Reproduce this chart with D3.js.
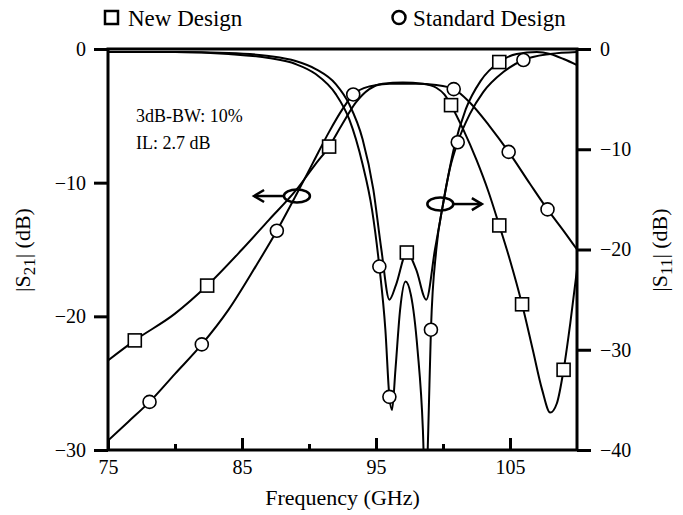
<!DOCTYPE html>
<html>
<head>
<meta charset="utf-8">
<script src="https://cdn.jsdelivr.net/npm/d3@7"></script>
<style>
  body { margin: 0; background: #fff; }
  svg { display: block; font-family: "Liberation Serif", "Times New Roman", serif; }
</style>
</head>
<body>
<svg id="chart" width="683" height="515"></svg>
<script>
// data: [GHz, dB]
const newS21 = [[75,-23.3],[77,-21.8],[80,-19.8],[82.4,-17.7],[85,-15],[87,-12.8],[89,-10.6],[90.5,-8.6],[91.5,-7.3],[92.5,-5.6],[93.5,-4],[94.5,-3],[95.5,-2.6],[97,-2.5],[98.5,-2.6],[99.5,-2.9],[100.1,-3.4],[100.6,-4.2],[101.5,-6],[102.5,-8.3],[103.4,-10.7],[104.2,-13.2],[105,-15.8],[105.9,-19.1],[106.7,-22.5],[107.4,-25.5],[108,-27.2],[108.5,-26.5],[109,-24],[109.5,-20.5],[110,-16.5]];
const newS21Marks = [77, 82.4, 91.5, 100.6, 104.2, 105.9, 109];

const stdS21 = [[75,-29.3],[76.5,-27.9],[78.1,-26.4],[80,-24.3],[82,-22.1],[84,-19.5],[86,-16.3],[87.6,-13.6],[89,-11],[90.3,-8.5],[91.5,-6.2],[92.5,-4.5],[93.3,-3.4],[94.5,-2.8],[96,-2.6],[98,-2.6],[99.5,-2.7],[100.8,-3.0],[102,-4.0],[103.5,-5.8],[104.9,-7.7],[106.5,-10.1],[107.8,-12],[109,-13.6],[110,-15]];
const stdS21Marks = [78.1, 82, 87.6, 93.3, 100.8, 104.9, 107.8];

// S11 uses the right axis
const newS11 = [[75,-0.3],[80,-0.3],[84,-0.4],[87,-0.7],[89,-1.2],[90.5,-2],[92,-3.5],[93,-5.5],[94,-9],[94.8,-14],[95.4,-20],[96,-25],[96.5,-23.5],[97.3,-20.3],[98,-22],[98.75,-25],[99.4,-20],[100,-15.5],[100.8,-10],[101.7,-6],[102.8,-3.2],[104.2,-1.3],[105.5,-0.5],[107,-0.3],[108,-0.5],[109,-1],[110,-1.6]];
const newS11Marks = [97.3, 104.2];

const stdS11 = [[75,-0.3],[80,-0.3],[84,-0.5],[87,-0.9],[89,-1.5],[90.5,-2.5],[92,-4.5],[93,-7],[94,-11.5],[94.7,-16],[95.25,-21.7],[95.7,-28],[96,-34.7],[96.2,-36],[96.45,-32],[96.8,-26],[97.2,-23.2],[97.6,-24.5],[98.1,-30],[98.5,-38],[98.7,-46],[98.9,-38],[99.1,-28],[99.5,-20],[100,-15.5],[100.5,-12],[101.1,-9.3],[102,-6.5],[103,-4.3],[104.5,-2.3],[106,-1.1],[108,-0.5],[110,-0.3]];
const stdS11Marks = [95.25, 96, 99.1, 101.1, 106];

const xTicks = [75, 85, 95, 105];
const xMinor = [80, 90, 100];
const leftTicks = [0, -10, -20, -30];
const rightTicks = [0, -10, -20, -30, -40];

const svg = d3.select("#chart");
const L = 108, R = 577, T = 49, B = 450;

const x = d3.scaleLinear().domain([75, 110]).range([L, R]);
const yL = d3.scaleLinear().domain([-30, 0]).range([B, T]);
const yR = d3.scaleLinear().domain([-40, 0]).range([B, T]);

svg.append("clipPath").attr("id", "plot-clip")
  .append("rect").attr("x", L).attr("y", T).attr("width", R - L).attr("height", B - T);

const plot = svg.append("g").attr("clip-path", "url(#plot-clip)");

function drawCurve(data, y) {
  const line = d3.line().x(d => x(d[0])).y(d => y(d[1])).curve(d3.curveMonotoneX);
  plot.append("path").attr("d", line(data))
    .attr("fill", "none").attr("stroke", "#000").attr("stroke-width", 2);
}
drawCurve(newS21, yL);
drawCurve(stdS21, yL);
drawCurve(newS11, yR);
drawCurve(stdS11, yR);

// annotation arrows with ellipses
const ann = svg.append("g").attr("stroke", "#000").attr("fill", "none").attr("stroke-width", 2.5);
function arrow(cx, cy, tipX) {
  ann.append("ellipse").attr("cx", x(cx)).attr("cy", yL(cy)).attr("rx", 13).attr("ry", 6.5);
  const dir = tipX < cx ? -1 : 1;
  const sx = x(cx) + dir * 13;
  const tx = x(tipX);
  ann.append("line").attr("x1", sx).attr("y1", yL(cy)).attr("x2", tx).attr("y2", yL(cy));
  ann.append("path").attr("d", `M${tx - dir * 10},${yL(cy) - 6}L${tx},${yL(cy)}L${tx - dir * 10},${yL(cy) + 6}`);
}
arrow(89.1, -11, 85.9);
arrow(99.8, -11.6, 102.9);

// markers
function marks(data, freqs, y, shape) {
  const pts = freqs.map(f => data.find(d => d[0] === f));
  const g = svg.append("g").attr("fill", "#fff").attr("stroke", "#000").attr("stroke-width", 1.6);
  pts.forEach(d => {
    if (shape === "sq") {
      g.append("rect").attr("x", x(d[0]) - 6.5).attr("y", y(d[1]) - 6.5).attr("width", 13).attr("height", 13);
    } else {
      g.append("circle").attr("cx", x(d[0])).attr("cy", y(d[1])).attr("r", 6.5);
    }
  });
}
marks(newS21, newS21Marks, yL, "sq");
marks(newS11, newS11Marks, yR, "sq");
marks(stdS21, stdS21Marks, yL, "ci");
marks(stdS11, stdS11Marks, yR, "ci");

// frame
svg.append("rect").attr("x", L).attr("y", T).attr("width", R - L).attr("height", B - T)
  .attr("fill", "none").attr("stroke", "#000").attr("stroke-width", 3);

// axes
svg.append("g").attr("transform", `translate(0,${B})`)
  .call(d3.axisBottom(x).tickValues(xTicks).tickSize(-12).tickPadding(10).tickFormat(d3.format("d")));
svg.append("g").attr("transform", `translate(0,${B})`)
  .call(d3.axisBottom(x).tickValues(xMinor).tickSize(-6).tickFormat(""));
svg.append("g").attr("transform", `translate(${L},0)`)
  .call(d3.axisLeft(yL).tickValues(leftTicks).tickSize(14).tickPadding(8));
svg.append("g").attr("transform", `translate(${R},0)`)
  .call(d3.axisRight(yR).tickValues(rightTicks).tickSize(14).tickPadding(9));

svg.selectAll(".domain").remove();
svg.selectAll(".tick line").attr("stroke", "#000").attr("stroke-width", 3);
svg.selectAll(".tick text").attr("fill", "#000")
  .style("font-family", '"Liberation Serif", serif').style("font-size", "20px");

// axis titles
svg.append("text").attr("x", (L + R) / 2).attr("y", 505).attr("text-anchor", "middle")
  .style("font-size", "22px").text("Frequency (GHz)");

function yTitle(cx, sub) {
  const t = svg.append("text").attr("transform", `translate(${cx},250) rotate(-90)`)
    .attr("text-anchor", "middle").style("font-size", "22px");
  t.append("tspan").text("|S");
  t.append("tspan").attr("dy", 5).style("font-size", "17px").text(sub);
  t.append("tspan").attr("dy", -5).text("| (dB)");
}
yTitle(30, "21");
yTitle(667, "11");

// passband note
svg.append("text").attr("x", 136).attr("y", 122).style("font-size", "18px").text("3dB-BW: 10%");
svg.append("text").attr("x", 136).attr("y", 149).style("font-size", "18px").text("IL: 2.7 dB");

// legend
const leg = svg.append("g");
leg.append("rect").attr("x", 105).attr("y", 11).attr("width", 13).attr("height", 13)
  .attr("fill", "#fff").attr("stroke", "#000").attr("stroke-width", 2.5);
leg.append("text").attr("x", 128).attr("y", 26).style("font-size", "23px").text("New Design");
leg.append("circle").attr("cx", 399).attr("cy", 17.5).attr("r", 6.5)
  .attr("fill", "#fff").attr("stroke", "#000").attr("stroke-width", 2.5);
leg.append("text").attr("x", 413).attr("y", 26).style("font-size", "23px").text("Standard Design");
</script>
</body>
</html>
